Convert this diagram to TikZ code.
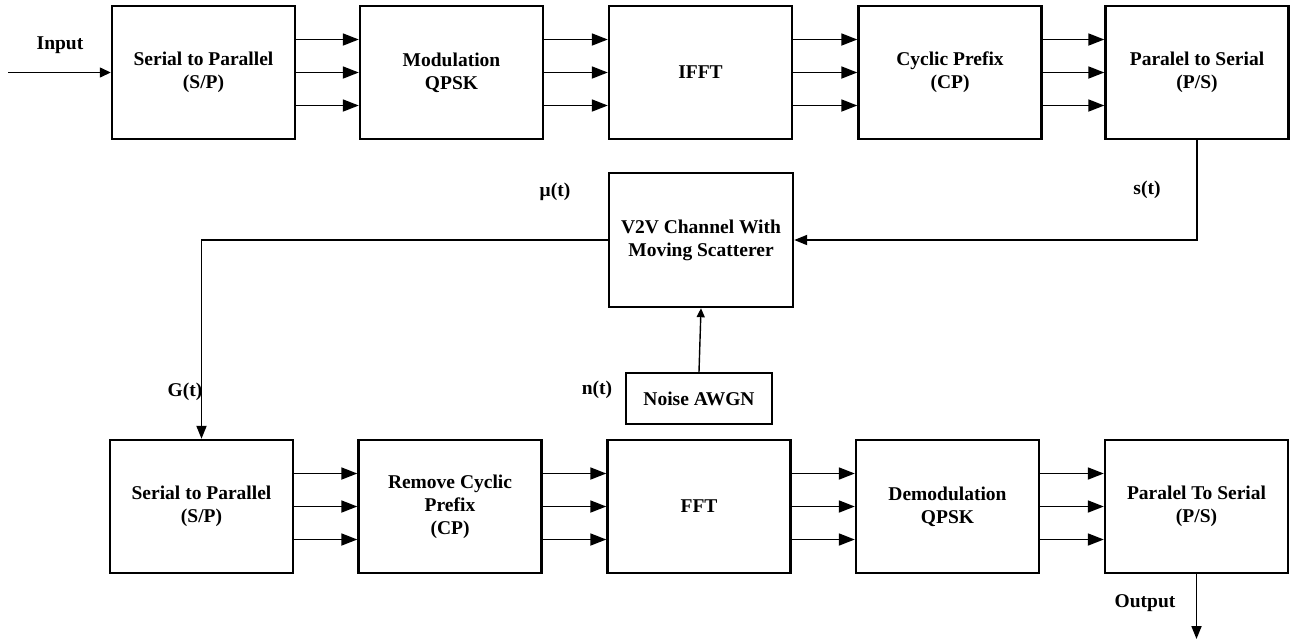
\documentclass[tikz,border=0pt]{standalone}
\usepackage{fontspec}
\setmainfont{Liberation Serif}
\usetikzlibrary{arrows.meta}
\begin{document}
\begin{tikzpicture}[x=1pt,y=-1pt,
  font=\fontsize{19.5}{23}\selectfont\bfseries,
  block/.style={draw, line width=2.4pt, minimum width=183pt, minimum height=133pt, align=center, inner sep=2pt},
  multi/.style={line width=1.8pt, -{Triangle[length=16pt,width=12pt]}},
  sig/.style={line width=1.8pt, -{Triangle[length=13pt,width=10pt]}},
  lbl/.style={inner sep=0pt}]
\useasboundingbox (0,0) rectangle (1290,641);
% top row
\node[block] (t1) at (203.5,72.5) {Serial to Parallel\\(S/P)};
\node[block] (t2) at (451.5,72.5) {Modulation\\QPSK};
\node[block] (t3) at (700.5,72.5) {IFFT};
\node[block] (t4) at (950,72.5) {Cyclic Prefix\\(CP)};
\node[block] (t5) at (1197,72.5) {Paralel to Serial\\(P/S)};
% channel
\node[block, minimum width=184pt, minimum height=134pt] (ch) at (701,240) {V2V Channel With\\Moving Scatterer};
\node[block, minimum width=146pt, minimum height=51pt] (noise) at (699,398.5) {Noise AWGN};
% bottom row
\node[block] (b1) at (201.5,506.5) {Serial to Parallel\\(S/P)};
\node[block] (b2) at (450,506.5) {Remove Cyclic\\Prefix\\(CP)};
\node[block] (b3) at (699,506.5) {FFT};
\node[block] (b4) at (947.5,506.5) {Demodulation\\QPSK};
\node[block] (b5) at (1196.5,506.5) {Paralel To Serial\\(P/S)};
% multi arrows
\foreach \a/\b in {t1/t2,t2/t3,t3/t4,t4/t5,b1/b2,b2/b3,b3/b4,b4/b5}{
  \draw[multi] ([yshift=33pt]\a.east) -- ([yshift=33pt]\b.west);
  \draw[multi] (\a.east) -- (\b.west);
  \draw[multi] ([yshift=-33pt]\a.east) -- ([yshift=-33pt]\b.west);
}
% input / output
\coordinate (in) at (8,72.5);
\draw[line width=1.4pt, -{Triangle[length=11pt,width=10pt]}] (in) -- (t1.west);
\node[lbl] (inl) at (60,45) {Input};
\coordinate (out) at (1196.5,639);
\draw[sig] (b5.south) -- (out);
\node[lbl] (outl) at (1145,603) {Output};
% channel connections
\draw[sig] (t5.south) |- (ch.east);
\draw[sig] (ch.west) -| (b1.north);
\draw[line width=1.4pt, -{Triangle[length=9pt,width=8pt]}] (noise.north) -- (ch.south);
% labels
\node[lbl] (mu) at (555,192) {μ(t)};
\node[lbl] (st) at (1147,190) {s(t)};
\node[lbl] (gt) at (185,392) {G(t)};
\node[lbl] (nt) at (597,390) {n(t)};
\end{tikzpicture}
\end{document}
